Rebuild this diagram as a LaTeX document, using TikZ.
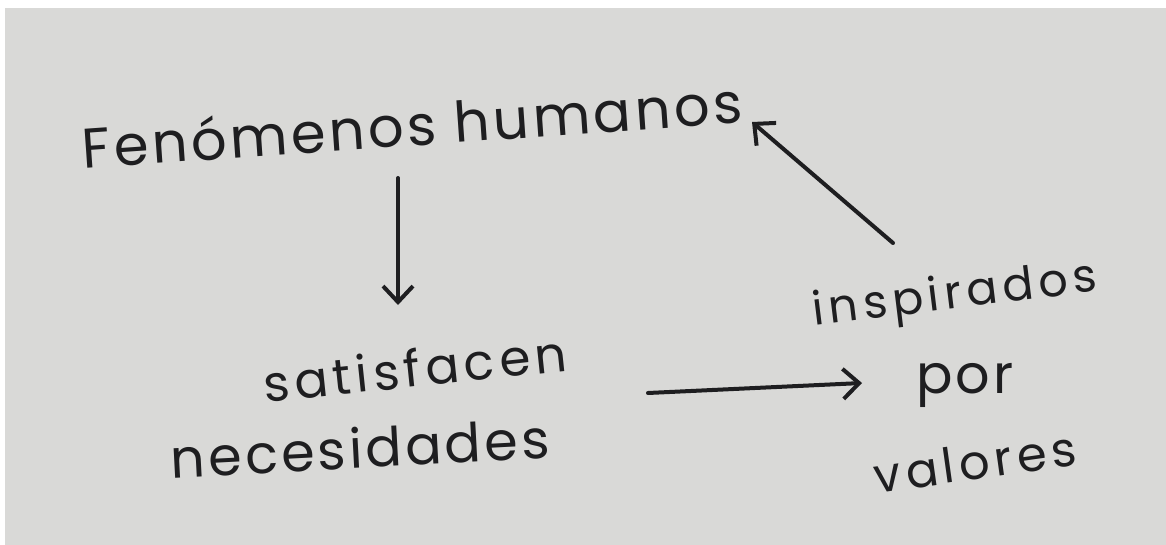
\documentclass[tikz,border=0pt]{standalone}
\usepackage{fontspec}
\setmainfont{Poppins}
\usetikzlibrary{arrows.meta,calc}
\definecolor{paper}{RGB}{217,217,215}
\definecolor{ink}{RGB}{30,30,32}
\tikzset{
  hand/.style={text=ink, inner sep=0pt, font=\fontsize{#1}{#1}\selectfont\addfontfeature{LetterSpace=6}},
  hand/.default=58,
  arr/.style={draw=ink, line width=4pt, line cap=round,
    -{Straight Barb[length=16pt,width=30pt,line width=4pt]}}
}
\begin{document}
\begin{tikzpicture}[x=1pt,y=-1pt]
\useasboundingbox (0,0) rectangle (1166,545);
\fill[white] (0,0) rectangle (1166,545);
\fill[paper] (5,8) rectangle (1166,545);
\node[hand=56, rotate=4] (fen) at (412,124) {Fenómenos humanos};
\node[hand=50, rotate=6] (sat) at (415,368) {\addfontfeature{LetterSpace=10}satisfacen};
\node[hand=54, rotate=3] (nec) at (360,448) {necesidades};
\node[hand=46, rotate=7] (ins) at (955,297) {\addfontfeature{LetterSpace=11}inspirados};
\node[hand=54] (por) at (965,385) {por};
\node[hand=48, rotate=8] (val) at (975,462) {\addfontfeature{LetterSpace=10}valores};
\draw[arr] ([shift={(-14,54)}]fen.center) -- ([shift={(-17,-63)}]sat.center);
\draw[arr] ([shift={(233,25)}]sat.center) -- ([shift={(-103,-2)}]por.center);
\draw[arr] ([shift={(-62,-54)}]ins.center) -- ([shift={(340,-2)}]fen.center);
\end{tikzpicture}
\end{document}
